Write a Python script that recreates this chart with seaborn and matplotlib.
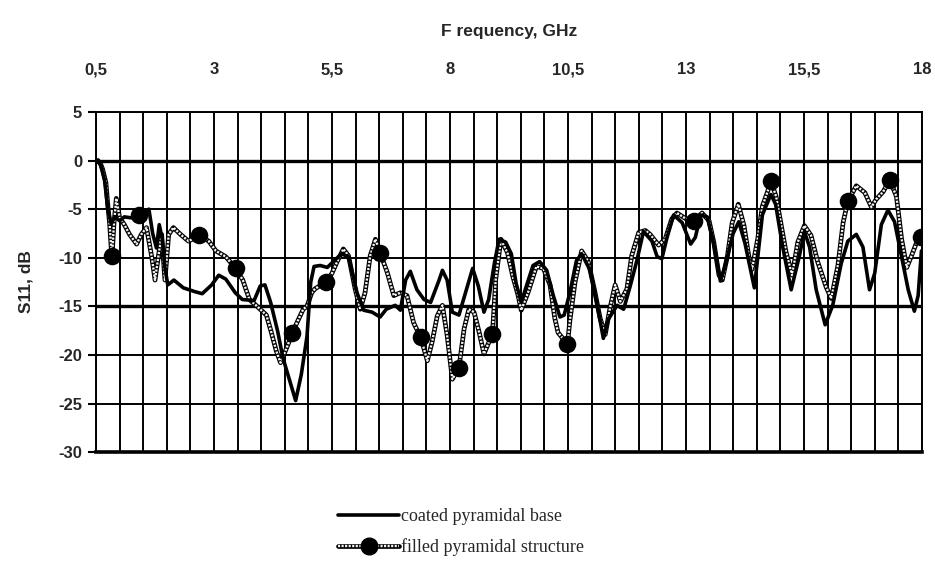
import matplotlib
matplotlib.use("Agg")
import matplotlib.pyplot as plt
from matplotlib.lines import Line2D
from matplotlib.legend_handler import HandlerTuple
import seaborn as sns
import pandas as pd

# ---------------- data ----------------
coated_freq = [0.54, 0.6, 0.68, 0.75, 0.82, 0.9, 1.0, 1.1, 1.25, 1.4, 1.55, 1.62, 1.7, 1.78, 1.84, 1.9,
               1.96, 2.02, 2.15, 2.35, 2.6, 2.75, 2.95, 3.1, 3.25, 3.45, 3.6, 3.85, 3.98, 4.08, 4.2, 4.35,
               4.46, 4.6, 4.73, 4.85, 4.97, 5.05, 5.12, 5.25, 5.4, 5.55, 5.7, 5.85, 6.03, 6.17, 6.35, 6.52,
               6.65, 6.84, 6.95, 7.06, 7.16, 7.3, 7.45, 7.59, 7.77, 7.84, 7.94, 8.05, 8.19, 8.33, 8.48, 8.6,
               8.72, 8.82, 8.94, 9.04, 9.18, 9.3, 9.4, 9.51, 9.62, 9.76, 9.9, 10.05, 10.19, 10.33, 10.42,
               10.54, 10.68, 10.79, 10.97, 11.11, 11.25, 11.36, 11.54, 11.68, 11.82, 11.96, 12.1, 12.28,
               12.39, 12.49, 12.6, 12.74, 12.92, 13.1, 13.2, 13.31, 13.45, 13.59, 13.73, 13.85, 14.0, 14.12,
               14.25, 14.45, 14.62, 14.8, 14.9, 15.05, 15.23, 15.4, 15.51, 15.62, 15.76, 15.95, 16.11, 16.29,
               16.43, 16.61, 16.75, 16.89, 17.0, 17.14, 17.28, 17.42, 17.57, 17.71, 17.84, 17.92, 17.99]
coated_s11 = [0.0, -0.5, -2.0, -5.0, -6.5, -5.8, -6.2, -5.8, -5.9, -5.6, -5.3, -5.0, -7.5, -9.0, -6.6, -8.0,
              -11.0, -12.8, -12.3, -13.1, -13.5, -13.7, -12.8, -11.8, -12.2, -13.6, -14.3, -14.4, -12.9, -12.8,
              -14.6, -17.6, -20.3, -22.6, -24.7, -22.0, -18.1, -12.5, -10.9, -10.8, -11.0, -10.3, -9.6, -9.9,
              -13.6, -15.4, -15.6, -16.1, -15.3, -14.9, -15.4, -12.3, -11.4, -13.3, -14.3, -14.6, -12.3, -11.3,
              -12.3, -15.6, -15.9, -13.6, -11.1, -12.9, -15.6, -14.3, -10.6, -8.1, -8.4, -9.6, -12.6, -14.6,
              -12.9, -10.8, -10.4, -11.3, -13.9, -16.1, -15.9, -13.6, -10.3, -9.6, -11.3, -14.6, -18.3, -16.3,
              -14.9, -15.3, -12.9, -10.3, -7.3, -8.3, -9.9, -10.1, -7.9, -5.6, -6.4, -8.6, -7.9, -5.6, -5.8,
              -8.6, -12.4, -10.5, -7.5, -6.3, -8.5, -13.1, -5.6, -3.5, -4.5, -8.9, -13.3, -9.9, -7.3, -8.9,
              -13.3, -16.9, -14.9, -10.6, -8.3, -7.6, -8.9, -13.3, -11.6, -6.6, -5.1, -6.3, -9.9, -13.3, -15.5,
              -13.9, -9.3]

filled_freq = [0.54, 0.6, 0.64, 0.71, 0.75, 0.79, 0.82, 0.84, 0.88, 0.93, 1.0, 1.1, 1.21, 1.36, 1.46, 1.57,
               1.68, 1.75, 1.82, 1.89, 1.96, 2.04, 2.14, 2.29, 2.46, 2.69, 2.89, 3.04, 3.25, 3.46, 3.61, 3.75,
               3.89, 4.11, 4.21, 4.32, 4.41, 4.57, 4.66, 4.89, 4.97, 5.07, 5.14, 5.37, 5.5, 5.6, 5.74, 5.85,
               5.99, 6.1, 6.2, 6.31, 6.42, 6.52, 6.67, 6.81, 6.95, 7.09, 7.23, 7.38, 7.52, 7.62, 7.73, 7.84,
               7.94, 8.05, 8.19, 8.3, 8.4, 8.51, 8.62, 8.72, 8.9, 8.97, 9.08, 9.22, 9.33, 9.44, 9.51, 9.66,
               9.83, 9.98, 10.12, 10.22, 10.29, 10.49, 10.54, 10.65, 10.79, 10.93, 11.07, 11.18, 11.29, 11.39,
               11.5, 11.61, 11.75, 11.85, 12.0, 12.14, 12.24, 12.42, 12.56, 12.7, 12.81, 13.0, 13.17, 13.34,
               13.49, 13.59, 13.7, 13.77, 13.88, 13.98, 14.11, 14.23, 14.34, 14.4, 14.52, 14.62, 14.73, 14.8,
               14.91, 15.01, 15.12, 15.25, 15.37, 15.51, 15.65, 15.79, 15.97, 16.08, 16.22, 16.33, 16.43,
               16.61, 16.79, 16.93, 17.03, 17.18, 17.32, 17.46, 17.57, 17.68, 17.78, 17.89, 17.99]
filled_s11 = [0.0, -0.4, -0.9, -2.3, -4.6, -6.6, -8.9, -9.8, -6.5, -3.9, -5.9, -6.6, -7.6, -8.6, -7.6, -6.9,
              -9.9, -12.3, -9.9, -7.6, -12.3, -7.6, -6.9, -7.6, -8.3, -7.7, -8.3, -9.3, -9.9, -11.1, -12.3,
              -14.3, -14.9, -15.9, -17.6, -19.6, -20.8, -18.9, -17.7, -15.3, -15.0, -13.6, -13.2, -12.5, -11.6,
              -10.5, -9.1, -9.8, -13.2, -15.3, -13.6, -9.8, -8.1, -9.5, -11.5, -13.9, -13.6, -13.9, -16.7,
              -18.2, -20.6, -18.7, -16.0, -14.9, -18.0, -22.5, -21.3, -17.3, -15.3, -15.6, -17.7, -19.9, -17.8,
              -12.2, -8.1, -9.5, -11.9, -13.8, -15.4, -13.5, -10.9, -11.1, -12.8, -16.2, -17.7, -18.9, -16.5,
              -12.5, -9.3, -10.4, -13.5, -16.2, -17.9, -15.2, -12.8, -14.5, -13.2, -9.8, -7.4, -7.2, -7.6,
              -8.7, -8.1, -6.0, -5.4, -6.0, -6.2, -5.4, -6.2, -8.4, -11.8, -12.3, -9.8, -6.4, -4.5, -6.7,
              -10.1, -11.2, -8.1, -4.7, -3.2, -2.1, -3.7, -6.4, -9.4, -11.8, -8.4, -6.7, -7.7, -10.4, -13.0,
              -14.2, -10.8, -6.4, -4.2, -2.6, -3.3, -4.8, -4.0, -3.2, -2.0, -3.7, -8.1, -11.0, -9.8, -8.4, -7.9]

marker_freq = [0.84, 1.42, 2.69, 3.46, 4.66, 5.37, 6.52, 7.38, 8.19, 8.9, 10.49, 13.17, 14.8, 16.43, 17.32, 17.99]
marker_s11 = [-9.8, -5.6, -7.7, -11.1, -17.7, -12.5, -9.5, -18.2, -21.3, -17.8, -18.9, -6.2, -2.1, -4.2, -2.0, -7.9]

x_ticks = [0.5, 3, 5.5, 8, 10.5, 13, 15.5, 18]
x_tick_labels = ["0,5", "3", "5,5", "8", "10,5", "13", "15,5", "18"]
y_ticks = [5, 0, -5, -10, -15, -20, -25, -30]

label_coated = "coated pyramidal base"
label_filled = "filled pyramidal structure"

# ---------------- plot ----------------
sns.set_style("white")
plt.rcParams['font.family'] = ['Liberation Sans', 'DejaVu Sans']

df_c = pd.DataFrame({"f": coated_freq, "s": coated_s11})
df_f = pd.DataFrame({"f": filled_freq, "s": filled_s11})
df_m = pd.DataFrame({"f": marker_freq, "s": marker_s11})

fig = plt.figure(figsize=(9.35, 5.68), dpi=100)
ax = fig.add_axes([0.1027, 0.204, 0.8833, 0.599])

dot_style = (0, (0.9, 0.6))
# filled structure: black outline + white dotted core
sns.lineplot(data=df_f, x="f", y="s", ax=ax, color="black", lw=3.4, sort=False, zorder=3)
sns.lineplot(data=df_f, x="f", y="s", ax=ax, color="#f4f4f4", lw=1.7, sort=False, zorder=4,
             linestyle=dot_style)
sns.lineplot(data=df_c, x="f", y="s", ax=ax, color="black", lw=2.6, sort=False, zorder=5)
sns.scatterplot(data=df_m, x="f", y="s", ax=ax, color="black", s=160, marker="o",
                edgecolor="black", linewidth=0, zorder=6)

ax.set_xlim(0.5, 18)
ax.set_ylim(-30, 5)
ax.xaxis.tick_top()
ax.xaxis.set_label_position("top")
ax.set_xticks(x_ticks)
ax.set_xticklabels(x_tick_labels, fontsize=12, fontweight="bold")
ax.set_xticks([0.5 + 0.5 * i for i in range(36)], minor=True)
ax.set_yticks(y_ticks)
ax.set_yticklabels([str(v) for v in y_ticks], fontsize=12, fontweight="bold")
ax.tick_params(axis="x", which="both", length=0, pad=25)
ax.tick_params(axis="y", which="major", length=6, width=1.5, color="black", pad=4, direction="out", left=True)

ax.grid(True, which="both", axis="x", color="black", lw=1.4)
ax.grid(True, which="major", axis="y", color="black", lw=1.4)
for yv in (0, -15):
    ax.axhline(yv, color="black", lw=2.4, zorder=2)

for side in ("top", "left", "right"):
    ax.spines[side].set_color("black")
    ax.spines[side].set_linewidth(1.4)
ax.spines["bottom"].set_color("black")
ax.spines["bottom"].set_linewidth(2.6)

ax.set_xlabel("F requency, GHz", fontsize=12.5, fontweight="bold", labelpad=19)
ax.set_ylabel("S11, dB", fontsize=12.5, fontweight="bold", labelpad=18)

# legend
h_c = Line2D([], [], color="black", lw=2.6)
h_f1 = Line2D([], [], color="black", lw=3.4)
h_f2 = Line2D([], [], color="#f4f4f4", lw=1.7, linestyle=dot_style)
h_f3 = Line2D([], [], color="black", marker="o", markersize=12, linestyle="none")
fig.legend([h_c, (h_f1, h_f2, h_f3)], [label_coated, label_filled],
           handler_map={tuple: HandlerTuple(ndivide=1, pad=0)},
           loc="center", bbox_to_anchor=(0.493, 0.063), frameon=False,
           prop={"family": "Liberation Serif", "size": 13},
           handlelength=3.4, handletextpad=0.1, labelspacing=0.75)

fig.savefig("out.png", dpi=100)
